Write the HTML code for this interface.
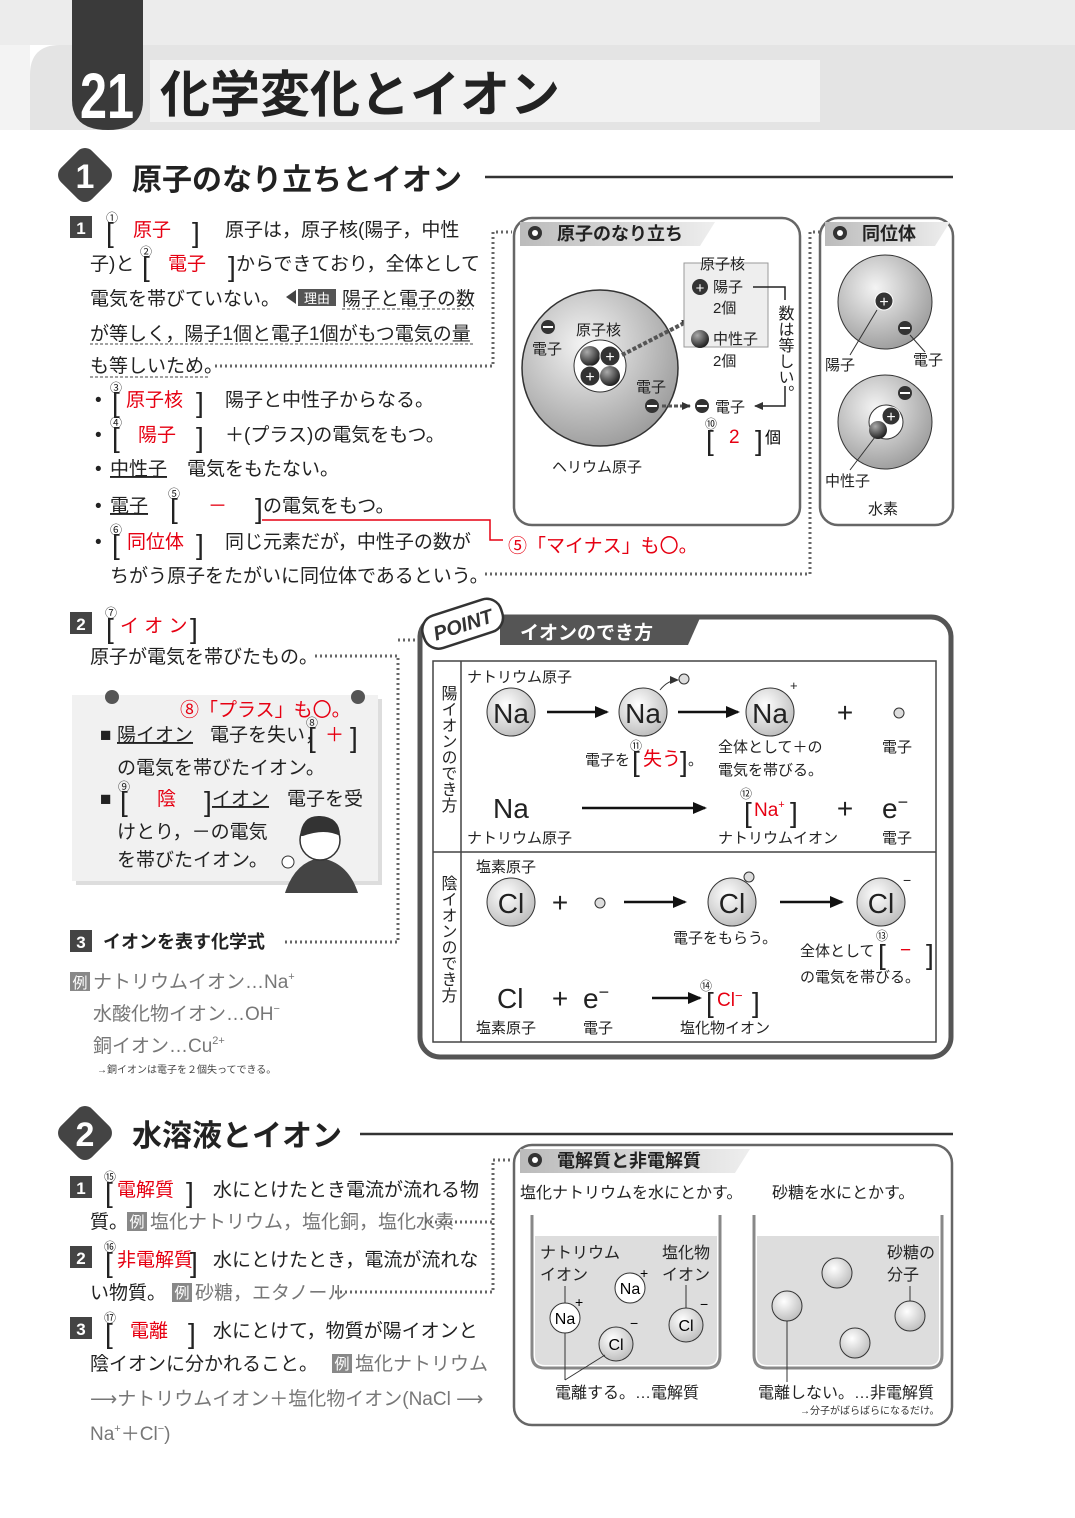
<!DOCTYPE html>
<html><head><meta charset="utf-8"><style>
html,body{margin:0;padding:0;background:#fff;}
svg{display:block;font-family:"Liberation Sans","Noto Sans CJK JP",sans-serif;}
.b{font-size:19px;fill:#222;}
.r{fill:#e60012;}
.s{font-size:15px;fill:#222;}
.sm{font-size:12px;fill:#222;}
.dot{stroke:#666;stroke-width:3;stroke-dasharray:2 3;fill:none;}
.box{fill:#fff;stroke:#666;stroke-width:2.5;}
.ar{stroke:#111;stroke-width:2.5;fill:none;marker-end:url(#ah);}
.gr{fill:#777;}
text.k{font-size:28px;fill:#222;}
</style></head><body>
<svg width="1075" height="1518" viewBox="0 0 1075 1518" xmlns="http://www.w3.org/2000/svg">
<defs>
<marker id="ah" markerUnits="userSpaceOnUse" markerWidth="14" markerHeight="12" refX="12" refY="6" orient="auto"><path d="M0,0 L14,6 L0,12 z" fill="#111"/></marker>
<marker id="ahs" markerUnits="userSpaceOnUse" markerWidth="9" markerHeight="8" refX="8" refY="4" orient="auto"><path d="M0,0 L9,4 L0,8 z" fill="#333"/></marker>
<radialGradient id="atom" cx="0.4" cy="0.35" r="0.7"><stop offset="0" stop-color="#f4f4f4"/><stop offset="1" stop-color="#9a9a9a"/></radialGradient>
<radialGradient id="ion" cx="0.4" cy="0.35" r="0.7"><stop offset="0" stop-color="#fff"/><stop offset="1" stop-color="#bbb"/></radialGradient>
<radialGradient id="ball" cx="0.35" cy="0.3" r="0.7"><stop offset="0" stop-color="#aaa"/><stop offset="1" stop-color="#222"/></radialGradient>
<linearGradient id="hd" x1="0" x2="1"><stop offset="0" stop-color="#bbb"/><stop offset="1" stop-color="#eee"/></linearGradient>
</defs>

<!-- header -->
<rect x="0" y="0" width="1075" height="45" fill="#ececec"/>
<path d="M30,130 L30,75 Q30,45 60,45 L1075,45 L1075,130 Z" fill="#e4e4e4"/>
<rect x="0" y="45" width="30" height="85" fill="#f3f3f3"/>
<rect x="150" y="60" width="670" height="62" fill="#f2f2f2"/>
<path d="M72,0 L143,0 L143,100 Q143,130 108,130 Q72,130 72,100 Z" fill="#3a3a3a"/>
<text x="80" y="118" font-size="64" font-weight="bold" fill="#fff" textLength="54" lengthAdjust="spacingAndGlyphs">21</text>
<text x="160" y="112" font-size="50" font-weight="bold" fill="#222">化学変化とイオン</text>

<!-- section 1 -->
<rect x="63" y="153" width="44" height="44" rx="10" transform="rotate(45 85 175)" fill="#444"/>
<text x="85" y="188" font-size="34" font-weight="bold" fill="#fff" text-anchor="middle">1</text>
<text x="132" y="190" font-size="30" font-weight="bold" fill="#222">原子のなり立ちとイオン</text>
<line x1="485" y1="177" x2="953" y2="177" stroke="#333" stroke-width="2.5"/>

<rect x="70" y="216" width="22" height="22" fill="#444"/><text x="81" y="234" font-size="17" font-weight="bold" fill="#fff" text-anchor="middle">1</text>
<text class="sm" x="106" y="222">①</text><text class="k" x="106" y="242">[</text><text class="b r" x="133" y="236">原子</text><text class="k" x="192" y="242">]</text>
<text class="b" x="225" y="236">原子は，原子核(陽子，中性</text>
<text class="b" x="90" y="270">子)と</text>
<text class="sm" x="140" y="256">②</text><text class="k" x="142" y="276">[</text><text class="b r" x="168" y="270">電子</text><text class="k" x="228" y="276">]</text>
<text class="b" x="236" y="270">からできており，全体として</text>
<text class="b" x="90" y="305">電気を帯びていない。</text>
<path d="M286,297 L296,290 L296,304 Z" fill="#444"/><rect x="298" y="289" width="38" height="17" fill="#555"/><text x="317" y="303" font-size="13" fill="#fff" text-anchor="middle">理由</text>
<text class="b" x="342" y="305">陽子と電子の数</text>
<text class="b" x="90" y="340">が等しく，陽子1個と電子1個がもつ電気の量</text>
<text class="b" x="90" y="372">も等しいため。</text>
<line x1="342" y1="309" x2="473" y2="309" stroke="#444" stroke-dasharray="3 2"/>
<line x1="90" y1="344" x2="473" y2="344" stroke="#444" stroke-dasharray="3 2"/>
<line x1="90" y1="377" x2="210" y2="377" stroke="#444" stroke-dasharray="3 2"/>
<path class="dot" d="M215,366 L493,366 L493,232 L512,232"/>

<text class="b" x="95" y="406">•</text><text class="sm" x="110" y="392">③</text><text class="k" x="112" y="412">[</text><text class="b r" x="126" y="406">原子核</text><text class="k" x="196" y="412">]</text><text class="b" x="225" y="406">陽子と中性子からなる。</text>
<text class="b" x="95" y="441">•</text><text class="sm" x="110" y="427">④</text><text class="k" x="112" y="447">[</text><text class="b r" x="138" y="441">陽子</text><text class="k" x="196" y="447">]</text><text class="b" x="225" y="441">＋(プラス)の電気をもつ。</text>
<text class="b" x="95" y="475">•</text><text class="b" x="110" y="475" text-decoration="underline">中性子</text><text class="b" x="187" y="475">電気をもたない。</text>
<text class="b" x="95" y="512">•</text><text class="b" x="110" y="512" text-decoration="underline">電子</text><text class="sm" x="168" y="498">⑤</text><text class="k" x="170" y="518">[</text><text class="b r" x="208" y="512">－</text><text class="k" x="255" y="518">]</text><text class="b" x="263" y="512">の電気をもつ。</text>
<text class="b" x="95" y="548">•</text><text class="sm" x="110" y="534">⑥</text><text class="k" x="112" y="554">[</text><text class="b r" x="127" y="548">同位体</text><text class="k" x="196" y="554">]</text><text class="b" x="225" y="548">同じ元素だが，中性子の数が</text>
<text class="b" x="110" y="582">ちがう原子をたがいに同位体であるという。</text>
<path d="M262,520 L490,520 L490,540 L503,540" stroke="#e60012" stroke-width="1.5" fill="none"/>
<text x="508" y="552" font-size="19" class="r">⑤「マイナス」も〇。</text>
<path class="dot" d="M485,574 L810,574 L810,232 L820,232"/>

<!-- box atom -->
<rect class="box" x="514" y="218" width="286" height="307" rx="18"/>
<path d="M520,222 L715,222 L700,246 L520,246 Z" fill="url(#hd)"/>
<circle cx="535" cy="233" r="7" fill="#333"/><circle cx="535" cy="233" r="3" fill="#fff"/>
<text x="557" y="240" font-size="18" font-weight="bold" fill="#222">原子のなり立ち</text>
<circle cx="600" cy="368" r="78" fill="url(#atom)" stroke="#333" stroke-width="1.5"/>
<circle cx="600" cy="366" r="26" fill="#fff" stroke="#333"/>
<circle cx="590" cy="356" r="10" fill="url(#ball)"/><circle cx="610" cy="356" r="10" fill="#333" stroke="#fff"/><text x="610" y="362" font-size="16" fill="#fff" text-anchor="middle">+</text>
<circle cx="590" cy="376" r="10" fill="#333" stroke="#fff"/><text x="590" y="382" font-size="16" fill="#fff" text-anchor="middle">+</text><circle cx="610" cy="376" r="10" fill="url(#ball)"/>
<circle cx="548" cy="327" r="7" fill="#333"/><rect x="543" y="326" width="10" height="2" fill="#fff"/>
<text class="s" x="532" y="354">電子</text><text class="s" x="576" y="335">原子核</text><text class="s" x="636" y="392">電子</text>
<circle cx="652" cy="406" r="7" fill="#333"/><rect x="647" y="405" width="10" height="2" fill="#fff"/>
<line x1="622" y1="355" x2="690" y2="320" stroke="#555" stroke-width="4" stroke-dasharray="4 2" marker-end="url(#ahs)"/>
<line x1="662" y1="406" x2="690" y2="406" stroke="#555" stroke-width="3" stroke-dasharray="4 2" marker-end="url(#ahs)"/>
<text class="s" x="552" y="472">ヘリウム原子</text>
<rect x="684" y="263" width="84" height="84" fill="#eee" stroke="#999"/>
<text class="s" x="700" y="269">原子核</text>
<circle cx="700" cy="287" r="8" fill="#333"/><text x="700" y="293" font-size="15" fill="#fff" text-anchor="middle">+</text>
<text class="s" x="713" y="292">陽子</text><text class="s" x="713" y="313">2個</text>
<circle cx="700" cy="339" r="9" fill="url(#ball)"/>
<text class="s" x="713" y="344">中性子</text><text class="s" x="713" y="366">2個</text>
<circle cx="702" cy="406" r="7" fill="#333"/><rect x="697" y="405" width="10" height="2" fill="#fff"/>
<text class="s" x="715" y="412">電子</text>
<path d="M753,287 L785,287 L785,406 L755,406" stroke="#222" fill="none" stroke-width="1.5" marker-end="url(#ahs)"/>
<rect x="776" y="300" width="18" height="86" fill="#fff"/>
<text x="784" y="305" font-size="16" fill="#222" style="writing-mode:vertical-rl">数は等しい。</text>
<text class="sm" x="705" y="428">⑩</text>
<text class="k" x="706" y="450">[</text><text class="b r" x="729" y="443">2</text><text class="k" x="755" y="450">]</text><text x="765" y="443" style="font-size:16px">個</text>

<!-- isotope -->
<rect class="box" x="820" y="218" width="133" height="307" rx="18"/>
<path d="M825,222 L950,222 L935,246 L825,246 Z" fill="url(#hd)"/>
<circle cx="840" cy="233" r="7" fill="#333"/><circle cx="840" cy="233" r="3" fill="#fff"/>
<text x="862" y="240" font-size="18" font-weight="bold" fill="#222">同位体</text>
<circle cx="885" cy="302" r="47" fill="url(#atom)" stroke="#333"/>
<circle cx="884" cy="301" r="9" fill="#333" stroke="#fff"/><text x="884" y="307" font-size="16" fill="#fff" text-anchor="middle">+</text>
<circle cx="905" cy="328" r="7" fill="#333"/><rect x="900" y="327" width="10" height="2" fill="#fff"/>
<line x1="877" y1="310" x2="850" y2="355" stroke="#333"/><line x1="910" y1="335" x2="925" y2="352" stroke="#333"/>
<text class="s" x="825" y="370">陽子</text><text class="s" x="913" y="365">電子</text>
<circle cx="885" cy="422" r="47" fill="url(#atom)" stroke="#333"/>
<circle cx="886" cy="422" r="17" fill="#fff" stroke="#333"/>
<circle cx="891" cy="416" r="9" fill="#333" stroke="#fff"/><text x="891" y="422" font-size="16" fill="#fff" text-anchor="middle">+</text>
<circle cx="878" cy="430" r="9" fill="url(#ball)"/>
<circle cx="905" cy="393" r="7" fill="#333"/><rect x="900" y="392" width="10" height="2" fill="#fff"/>
<line x1="875" y1="437" x2="850" y2="470" stroke="#333"/>
<text class="s" x="825" y="486">中性子</text><text class="s" x="868" y="514">水素</text>

<!-- 2 ion -->
<rect x="70" y="612" width="22" height="22" fill="#444"/><text x="81" y="630" font-size="17" font-weight="bold" fill="#fff" text-anchor="middle">2</text>
<text class="sm" x="105" y="617">⑦</text><text class="k" x="106" y="638">[</text><text class="b r" x="120" y="632">イ オ ン</text><text class="k" x="190" y="638">]</text>
<text class="b" x="90" y="663">原子が電気を帯びたもの。</text>
<path class="dot" d="M315,656 L398,656 L398,942"/>
<path class="dot" d="M398,640 L418,640"/>

<!-- note card -->
<rect x="76" y="699" width="306" height="186" fill="#ddd"/>
<rect x="72" y="695" width="306" height="186" fill="#f1f1f1"/>
<circle cx="112" cy="697" r="7" fill="#555"/><circle cx="358" cy="697" r="7" fill="#555"/>
<text x="180" y="716" font-size="19" class="r">⑧「プラス」も〇。</text>
<text class="b" x="100" y="741">■</text><text class="b" x="117" y="741" text-decoration="underline">陽イオン</text><text class="b" x="210" y="741">電子を失い，</text>
<text class="sm" x="306" y="727">⑧</text><text class="k" x="308" y="747">[</text><text class="b r" x="325" y="741">＋</text><text class="k" x="350" y="747">]</text>
<text class="b" x="117" y="774">の電気を帯びたイオン。</text>
<text class="b" x="100" y="805">■</text><text class="sm" x="118" y="791">⑨</text><text class="k" x="120" y="811">[</text><text class="b r" x="157" y="805">陰</text><text class="k" x="204" y="811">]</text><text class="b" x="212" y="805" text-decoration="underline">イオン</text><text class="b" x="287" y="805">電子を受</text>
<text class="b" x="117" y="838">けとり，－の電気</text>
<text class="b" x="117" y="866">を帯びたイオン。</text>
<path d="M285,893 Q295,862 320,858 Q348,862 358,893 Z" fill="#444"/>
<circle cx="320" cy="840" r="20" fill="#fff" stroke="#333" stroke-width="1.5"/>
<path d="M300,836 Q302,815 320,816 Q340,817 340,836 Q325,828 303,836Z" fill="#333"/>
<circle cx="288" cy="862" r="6" fill="#fff" stroke="#333"/>

<!-- 3 -->
<rect x="70" y="930" width="22" height="22" fill="#444"/><text x="81" y="948" font-size="17" font-weight="bold" fill="#fff" text-anchor="middle">3</text>
<text x="103" y="948" font-size="18" font-weight="bold" fill="#222">イオンを表す化学式</text>
<path class="dot" d="M285,942 L398,942"/>
<rect x="70" y="972" width="20" height="19" fill="#888"/><text x="80" y="988" font-size="15" fill="#fff" text-anchor="middle">例</text>
<text class="b gr" x="93" y="988">ナトリウムイオン…Na<tspan font-size="11" dy="-8">+</tspan></text>
<text class="b gr" x="93" y="1020">水酸化物イオン…OH<tspan font-size="11" dy="-8">−</tspan></text>
<text class="b gr" x="93" y="1052">銅イオン…Cu<tspan font-size="11" dy="-8">2+</tspan></text>
<text x="97" y="1073" font-size="10" fill="#444">→銅イオンは電子を２個失ってできる。</text>

<!-- POINT box -->
<rect x="420" y="617" width="531" height="440" rx="20" fill="#fff" stroke="#555" stroke-width="5"/>
<path d="M500,618 L700,618 L688,645 L500,645 Z" fill="#555"/>
<text x="520" y="639" font-size="19" font-weight="bold" fill="#fff">イオンのでき方</text>
<g transform="rotate(-18 462 625)"><rect x="422" y="607" width="82" height="34" rx="15" fill="#fff" stroke="#333" stroke-width="2.5"/><text x="463" y="632" font-size="20" font-weight="bold" fill="#333" text-anchor="middle" font-style="italic">POINT</text></g>
<rect x="433" y="661" width="503" height="381" fill="#fff" stroke="#444" stroke-width="1.5"/>
<line x1="461" y1="661" x2="461" y2="1042" stroke="#444" stroke-width="1.5"/>
<line x1="433" y1="852" x2="936" y2="852" stroke="#444" stroke-width="1.5"/>
<text x="447" y="685" font-size="16" fill="#222" style="writing-mode:vertical-rl">陽イオンのでき方</text>
<text x="447" y="875" font-size="16" fill="#222" style="writing-mode:vertical-rl">陰イオンのでき方</text>

<text class="s" x="467" y="682">ナトリウム原子</text>
<circle cx="511" cy="712" r="24" fill="url(#ion)" stroke="#333"/><text x="511" y="723" font-size="28" text-anchor="middle" fill="#222">Na</text>
<line class="ar" x1="547" y1="712" x2="607" y2="712"/>
<circle cx="643" cy="712" r="24" fill="url(#ion)" stroke="#333"/><text x="643" y="723" font-size="28" text-anchor="middle" fill="#222">Na</text>
<path d="M660,690 Q668,680 678,680" stroke="#333" fill="none" marker-end="url(#ahs)"/><circle cx="684" cy="679" r="5" fill="#ddd" stroke="#333"/>
<line class="ar" x1="678" y1="712" x2="738" y2="712"/>
<circle cx="770" cy="712" r="24" fill="url(#ion)" stroke="#333"/><text x="770" y="723" font-size="28" text-anchor="middle" fill="#222">Na</text>
<text x="790" y="690" font-size="13" fill="#222">+</text>
<text x="845" y="722" font-size="28" text-anchor="middle" fill="#222">+</text>
<circle cx="899" cy="713" r="5" fill="#ddd" stroke="#333"/>
<text class="s" x="585" y="765">電子を</text><text class="sm" x="630" y="750">⑪</text><text class="k" x="632" y="771">[</text><text class="b r" x="643" y="765">失う</text><text class="k" x="680" y="771">]</text><text class="s" x="688" y="765">。</text>
<text class="s" x="718" y="752">全体として＋の</text><text class="s" x="718" y="775">電気を帯びる。</text>
<text class="s" x="882" y="752">電子</text>
<text x="493" y="818" font-size="28" fill="#222">Na</text>
<line class="ar" x1="582" y1="808" x2="705" y2="808"/>
<text class="sm" x="740" y="798">⑫</text>
<text class="k" x="744" y="822">[</text><text class="b r" x="754" y="816">Na<tspan font-size="11" dy="-8">+</tspan></text><text class="k" x="790" y="822">]</text>
<text x="845" y="818" font-size="28" text-anchor="middle" fill="#222">+</text>
<text x="882" y="818" font-size="28" fill="#222">e<tspan font-size="18" dy="-10">−</tspan></text>
<text class="s" x="467" y="843">ナトリウム原子</text><text class="s" x="718" y="843">ナトリウムイオン</text><text class="s" x="882" y="843">電子</text>

<text class="s" x="476" y="872">塩素原子</text>
<circle cx="511" cy="902" r="24" fill="url(#ion)" stroke="#333"/><text x="511" y="913" font-size="28" text-anchor="middle" fill="#222">Cl</text>
<text x="560" y="912" font-size="28" text-anchor="middle" fill="#222">+</text>
<circle cx="600" cy="903" r="5" fill="#ddd" stroke="#333"/>
<line class="ar" x1="624" y1="902" x2="685" y2="902"/>
<circle cx="732" cy="902" r="24" fill="url(#ion)" stroke="#333"/><text x="732" y="913" font-size="28" text-anchor="middle" fill="#222">Cl</text>
<circle cx="749" cy="877" r="5" fill="#ddd" stroke="#333"/>
<line class="ar" x1="780" y1="902" x2="842" y2="902"/>
<circle cx="881" cy="902" r="24" fill="url(#ion)" stroke="#333"/><text x="881" y="913" font-size="28" text-anchor="middle" fill="#222">Cl</text>
<text x="903" y="885" font-size="14" fill="#222">−</text>
<text class="s" x="673" y="943">電子をもらう。</text>
<text class="s" x="800" y="956">全体として</text><text class="sm" x="876" y="940">⑬</text><text class="k" x="878" y="964">[</text><text class="b r" x="900" y="956">−</text><text class="k" x="926" y="964">]</text>
<text class="s" x="800" y="982">の電気を帯びる。</text>
<text x="497" y="1008" font-size="28" fill="#222">Cl</text>
<text x="560" y="1008" font-size="28" text-anchor="middle" fill="#222">+</text>
<text x="583" y="1008" font-size="28" fill="#222">e<tspan font-size="18" dy="-10">−</tspan></text>
<line class="ar" x1="652" y1="998" x2="700" y2="998"/>
<text class="sm" x="700" y="990">⑭</text>
<text class="k" x="706" y="1012">[</text><text class="b r" x="717" y="1006">Cl<tspan font-size="13" dy="-6">−</tspan></text><text class="k" x="752" y="1012">]</text>
<text class="s" x="476" y="1033">塩素原子</text><text class="s" x="583" y="1033">電子</text><text class="s" x="680" y="1033">塩化物イオン</text>

<!-- section 2 -->
<rect x="63" y="1111" width="44" height="44" rx="10" transform="rotate(45 85 1133)" fill="#444"/>
<text x="85" y="1146" font-size="34" font-weight="bold" fill="#fff" text-anchor="middle">2</text>
<text x="132" y="1146" font-size="30" font-weight="bold" fill="#222">水溶液とイオン</text>
<line x1="360" y1="1134" x2="953" y2="1134" stroke="#333" stroke-width="2.5"/>

<rect x="70" y="1176" width="22" height="22" fill="#444"/><text x="81" y="1194" font-size="17" font-weight="bold" fill="#fff" text-anchor="middle">1</text>
<text class="sm" x="104" y="1181">⑮</text><text class="k" x="105" y="1202">[</text><text class="b r" x="117" y="1196">電解質</text><text class="k" x="186" y="1202">]</text><text class="b" x="213" y="1196">水にとけたとき電流が流れる物</text>
<text class="b" x="90" y="1228">質。</text><rect x="127" y="1212" width="20" height="19" fill="#888"/><text x="137" y="1227" font-size="15" fill="#fff" text-anchor="middle">例</text>
<text class="b gr" x="150" y="1228">塩化ナトリウム，塩化銅，塩化水素</text>
<rect x="70" y="1246" width="22" height="22" fill="#444"/><text x="81" y="1264" font-size="17" font-weight="bold" fill="#fff" text-anchor="middle">2</text>
<text class="sm" x="104" y="1251">⑯</text><text class="k" x="105" y="1272">[</text><text class="b r" x="117" y="1266">非電解質</text><text class="k" x="190" y="1272">]</text><text class="b" x="213" y="1266">水にとけたとき，電流が流れな</text>
<text class="b" x="90" y="1299">い物質。</text><rect x="172" y="1283" width="20" height="19" fill="#888"/><text x="182" y="1298" font-size="15" fill="#fff" text-anchor="middle">例</text>
<text class="b gr" x="195" y="1299">砂糖，エタノール</text>
<rect x="70" y="1317" width="22" height="22" fill="#444"/><text x="81" y="1335" font-size="17" font-weight="bold" fill="#fff" text-anchor="middle">3</text>
<text class="sm" x="104" y="1322">⑰</text><text class="k" x="105" y="1343">[</text><text class="b r" x="130" y="1337">電離</text><text class="k" x="188" y="1343">]</text><text class="b" x="213" y="1337">水にとけて，物質が陽イオンと</text>
<text class="b" x="90" y="1370">陰イオンに分かれること。</text><rect x="332" y="1354" width="20" height="19" fill="#888"/><text x="342" y="1369" font-size="15" fill="#fff" text-anchor="middle">例</text>
<text class="b gr" x="355" y="1370">塩化ナトリウム</text>
<text class="b gr" x="90" y="1405">⟶ナトリウムイオン＋塩化物イオン(NaCl ⟶</text>
<text class="b gr" x="90" y="1440">Na<tspan font-size="11" dy="-8">+</tspan><tspan dy="8">＋Cl</tspan><tspan font-size="11" dy="-8">−</tspan><tspan dy="8">)</tspan></text>
<path class="dot" d="M425,1222 L493,1222 L493,1160 L512,1160"/>
<path class="dot" d="M335,1292 L493,1292 L493,1222"/>

<!-- electrolyte box -->
<rect class="box" x="514" y="1145" width="438" height="280" rx="18"/>
<path d="M520,1149 L750,1149 L735,1173 L520,1173 Z" fill="url(#hd)"/>
<circle cx="535" cy="1160" r="7" fill="#333"/><circle cx="535" cy="1160" r="3" fill="#fff"/>
<text x="557" y="1167" font-size="18" font-weight="bold" fill="#222">電解質と非電解質</text>
<text class="s" x="520" y="1198" style="font-size:16px">塩化ナトリウムを水にとかす。</text>
<text class="s" x="772" y="1198" style="font-size:16px">砂糖を水にとかす。</text>
<path d="M532,1215 L532,1355 Q532,1368 545,1368 L707,1368 Q720,1368 720,1355 L720,1215" fill="none" stroke="#888" stroke-width="3"/>
<path d="M535,1236 L717,1236 L717,1355 Q717,1365 707,1365 L545,1365 Q535,1365 535,1355 Z" fill="#ddd"/>
<path d="M754,1215 L754,1355 Q754,1368 767,1368 L929,1368 Q942,1368 942,1355 L942,1215" fill="none" stroke="#888" stroke-width="3"/>
<path d="M757,1236 L939,1236 L939,1355 Q939,1365 929,1365 L767,1365 Q757,1365 757,1355 Z" fill="#ddd"/>
<text class="s" x="540" y="1258" style="font-size:16px">ナトリウム</text><text class="s" x="540" y="1280" style="font-size:16px">イオン</text>
<text class="s" x="662" y="1258" style="font-size:16px">塩化物</text><text class="s" x="662" y="1280" style="font-size:16px">イオン</text>
<circle cx="630" cy="1288" r="15" fill="#fff" stroke="#333"/><text x="630" y="1294" font-size="16" text-anchor="middle">Na</text><text x="640" y="1278" font-size="14">+</text>
<circle cx="565" cy="1318" r="15" fill="#fff" stroke="#333"/><text x="565" y="1324" font-size="16" text-anchor="middle">Na</text><text x="575" y="1307" font-size="14">+</text>
<circle cx="616" cy="1344" r="17" fill="url(#ion)" stroke="#333"/><text x="616" y="1350" font-size="16" text-anchor="middle">Cl</text><text x="630" y="1328" font-size="14">−</text>
<circle cx="686" cy="1325" r="17" fill="url(#ion)" stroke="#333"/><text x="686" y="1331" font-size="16" text-anchor="middle">Cl</text><text x="700" y="1309" font-size="14">−</text>
<line x1="565" y1="1286" x2="565" y2="1303" stroke="#333"/><line x1="686" y1="1285" x2="686" y2="1308" stroke="#333"/>
<line x1="565" y1="1333" x2="565" y2="1380" stroke="#333"/><line x1="605" y1="1355" x2="565" y2="1380" stroke="#333"/>
<text class="s" x="887" y="1258" style="font-size:16px">砂糖の</text><text class="s" x="887" y="1280" style="font-size:16px">分子</text>
<circle cx="837" cy="1273" r="15" fill="url(#ion)" stroke="#333"/>
<circle cx="787" cy="1306" r="15" fill="url(#ion)" stroke="#333"/>
<circle cx="910" cy="1316" r="15" fill="url(#ion)" stroke="#333"/>
<circle cx="855" cy="1343" r="15" fill="url(#ion)" stroke="#333"/>
<line x1="910" y1="1286" x2="910" y2="1301" stroke="#333"/><line x1="787" y1="1321" x2="787" y2="1382" stroke="#333"/>
<text class="s" x="555" y="1398" style="font-size:16px">電離する。…電解質</text>
<text class="s" x="758" y="1398" style="font-size:16px">電離しない。…非電解質</text>
<text x="800" y="1414" font-size="10" fill="#333">→分子がばらばらになるだけ。</text>
</svg>
</body></html>
